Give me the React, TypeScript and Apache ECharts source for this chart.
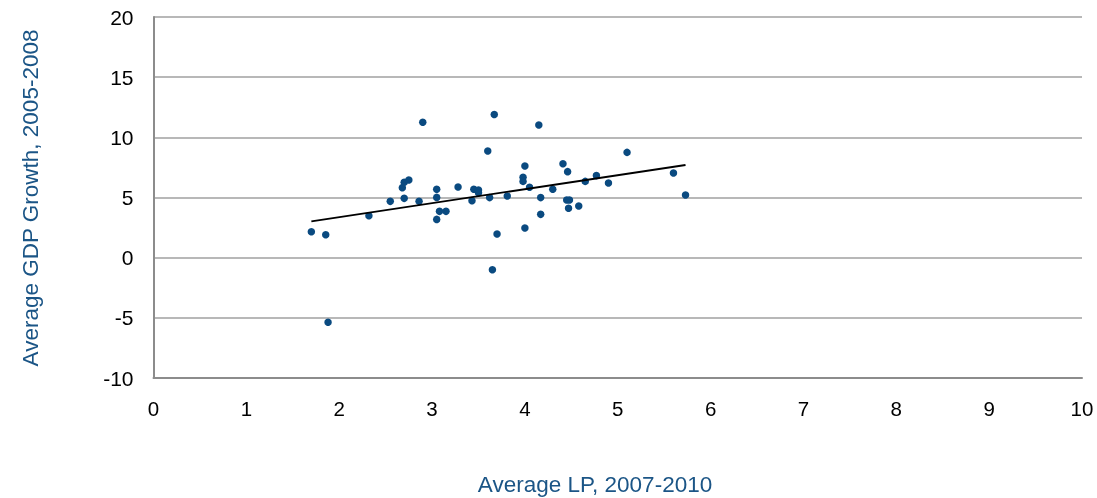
import React, { useEffect, useRef } from "react";
import * as echarts from "echarts";

const lpValues: number[] = [
  1.70, 1.855, 1.88, 2.32, 2.55, 2.68, 2.70, 2.75, 2.70, 2.86, 2.90,
  3.05, 3.05, 3.08, 3.15, 3.05, 3.28, 3.43, 3.45, 3.50, 3.50, 3.60,
  3.62, 3.65, 3.67, 3.70, 3.81, 3.98, 3.98, 4.00, 4.00, 4.05, 4.15,
  4.17, 4.17, 4.30, 4.41, 4.46, 4.45, 4.48, 4.47, 4.58, 4.65, 4.77,
  4.90, 5.10, 5.60, 5.73,
];
const gdpValues: number[] = [
  2.16, 1.91, -5.37, 3.49, 4.68, 5.82, 6.26, 6.46, 4.93, 4.68, 11.25,
  5.68, 5.01, 3.85, 3.85, 3.18, 5.87, 4.74, 5.68, 5.63, 5.40, 8.87,
  4.99, -1.0, 11.9, 1.97, 5.13, 6.68, 6.34, 7.62, 2.47, 5.85, 11.03,
  4.99, 3.60, 5.68, 7.81, 7.15, 4.79, 4.79, 4.10, 4.30, 6.34, 6.82,
  6.21, 8.75, 7.04, 5.21,
];
const trendX: number[] = [1.70, 5.73];
const trendY: number[] = [3.02, 7.70];
const xTicks: number[] = [0, 10, 1];
const yTicks: number[] = [-10, 20, 5];

export default function App() {
  const ref = useRef<HTMLDivElement>(null);
  useEffect(() => {
    if (!ref.current) return;
    const chart = echarts.init(ref.current, null, { renderer: "svg" });
    const font = "'Liberation Sans', Arial, Helvetica, sans-serif";
    chart.setOption({
      animation: false,
      grid: { left: 153.5, right: 15, top: 17, bottom: 120, containLabel: false },
      xAxis: {
        type: "value",
        min: xTicks[0],
        max: xTicks[1],
        interval: xTicks[2],
        axisLine: { show: true, onZero: false, lineStyle: { color: "#8c8c8c", width: 2 } },
        axisTick: { show: false },
        splitLine: { show: false },
        axisLabel: { color: "#000", fontSize: 20.5, fontFamily: font, margin: 20 },
      },
      yAxis: {
        type: "value",
        min: yTicks[0],
        max: yTicks[1],
        interval: yTicks[2],
        axisLine: { show: true, onZero: false, lineStyle: { color: "#8c8c8c", width: 2 } },
        axisTick: { show: false },
        splitLine: { show: true, lineStyle: { color: "#a0a0a0", width: 1.5 } },
        axisLabel: { color: "#000", fontSize: 21, fontFamily: font, margin: 20 },
      },
      graphic: [
        {
          type: "text",
          x: 30,
          y: 198,
          rotation: Math.PI / 2,
          style: {
            text: "Average GDP Growth, 2005-2008",
            fill: "#1b5586",
            font: `22.5px ${font}`,
            align: "center",
            verticalAlign: "middle",
          },
        },
        {
          type: "text",
          x: 595,
          y: 484,
          style: {
            text: "Average LP, 2007-2010",
            fill: "#1b5586",
            font: `22.5px ${font}`,
            align: "center",
            verticalAlign: "middle",
          },
        },
      ],
      series: [
        {
          type: "scatter",
          symbol: "circle",
          symbolSize: 7.5,
          itemStyle: { color: "#0a4a80", opacity: 1 },
          data: lpValues.map((x, i) => [x, gdpValues[i]]),
          z: 3,
        },
        {
          type: "line",
          data: trendX.map((x, i) => [x, trendY[i]]),
          showSymbol: false,
          symbol: "none",
          lineStyle: { color: "#000", width: 1.8 },
          z: 4,
        },
      ],
    });
    return () => chart.dispose();
  }, []);
  return (
    <div
      ref={ref}
      style={{ position: "fixed", left: 0, top: 0, width: 1097, height: 498 }}
    />
  );
}
